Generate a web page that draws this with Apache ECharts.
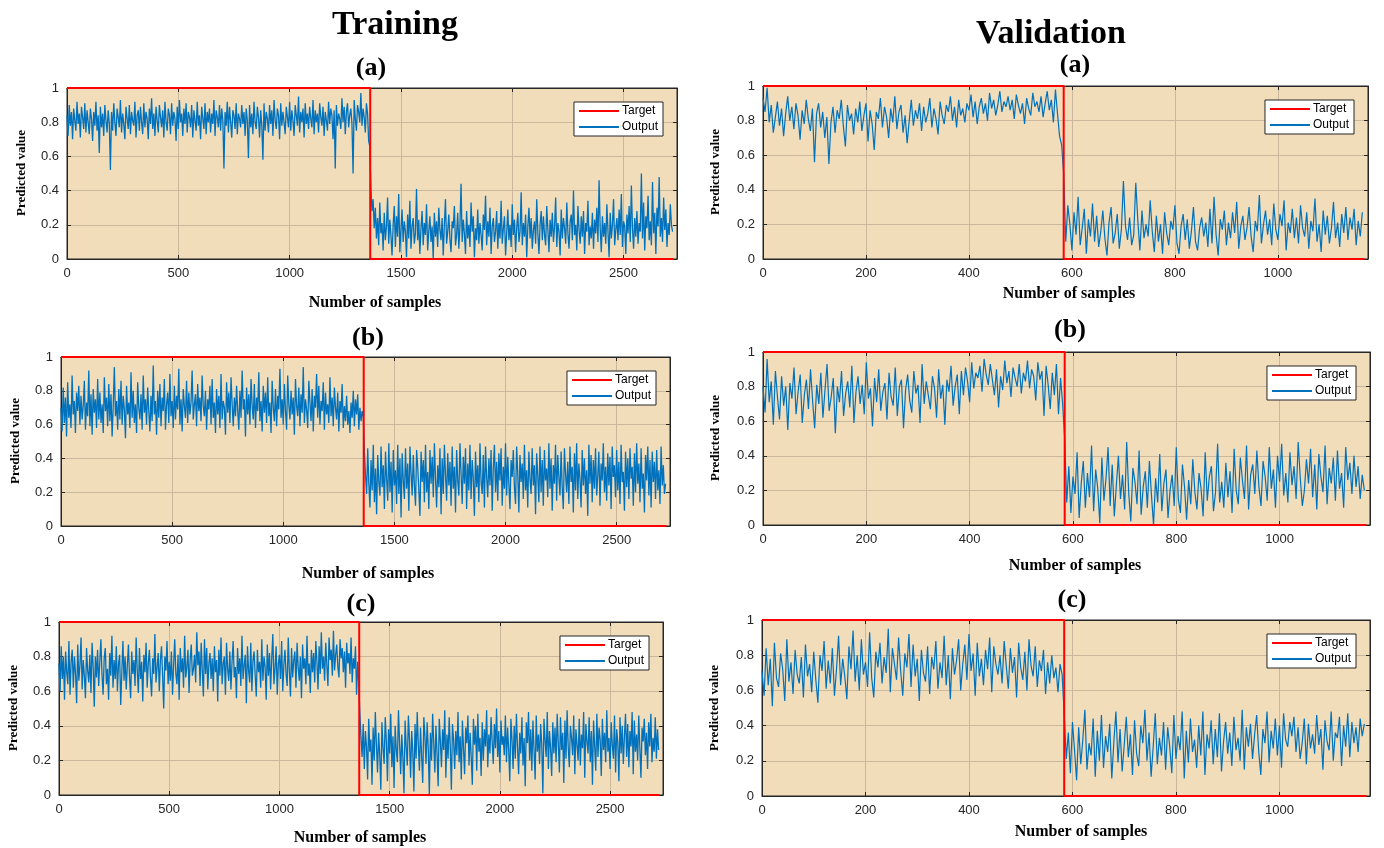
<!DOCTYPE html>
<html lang="en">
<head>
<meta charset="UTF-8">
<title>Training / Validation</title>
<script src="https://cdn.jsdelivr.net/npm/echarts@6/dist/echarts.min.js"></script>
<style>
    html, body { margin: 0; background: #fff; }
    #main { width: 1384px; height: 848px; }
</style>
</head>
<body>
<div id="main"></div>
<script type="text/javascript">
    // values, in percent
    // training: one value every 5 samples, validation: one every 4 samples
    var trainEvery = 5, valEvery = 4;
    var trainSamples = 2724, trainSwitch = 1362;
    var valSamples = 1168, valSwitch = 584;
    var yTicks = [0, 0.2, 0.4, 0.6, 0.8, 1];
    var trainXTicks = [0, 500, 1000, 1500, 2000, 2500];
    var valXTicks = [0, 200, 400, 600, 800, 1000];

    var trainA_hi = [84,72,90,78,86,70,88,81,75,92,79,85,71,89,83,76,91,74,87,80,
        73,88,82,69,86,78,92,75,84,62,89,77,85,72,90,81,74,87,79,52,
        86,75,91,80,72,88,83,77,93,74,85,79,70,89,82,76,90,73,86,81,
        78,92,71,84,87,75,89,80,73,91,77,86,82,70,88,79,94,76,85,72,
        89,81,74,90,83,77,87,71,92,80,75,88,84,73,91,78,86,82,69,89,
        76,93,80,85,72,88,79,91,74,86,83,77,90,71,87,81,75,92,78,84,
        70,89,82,76,91,73,86,80,88,74,85,79,93,72,87,83,77,90,75,88,
        81,53,86,78,92,74,89,80,71,87,84,76,91,73,85,82,77,90,79,86,
        72,88,81,59,90,77,85,73,92,80,76,89,83,71,87,78,58,91,75,86,
        82,74,90,79,87,72,93,81,76,88,84,70,91,78,86,80,73,89,83,77,
        92,75,87,81,72,90,84,78,95,74,86,80,88,71,91,79,85,76,89,82,
        77,93,73,87,80,85,74,91,83,78,89,72,86,81,75,92,79,88,84,70,
        87,53,90,78,85,82,76,94,80,89,73,86,91,77,84,88,79,50,93,82,
        75,90,86,80,97,78,88,83,74,91,85,69,66];
    var trainA_lo = [42,28,35,18,30,12,24,8,33,15,21,5,27,11,19,36,9,23,14,2,
        20,31,7,25,13,38,4,17,29,10,22,16,1,26,12,34,6,19,24,9,
        15,41,11,23,3,18,28,8,21,14,32,5,16,25,10,19,0,27,13,22,
        7,30,17,11,24,2,20,35,9,16,26,12,4,22,18,31,8,14,27,6,
        19,44,10,23,15,3,28,12,20,7,33,16,25,1,18,11,29,9,21,14,
        5,26,17,37,8,22,13,30,3,19,24,10,16,28,6,21,12,34,9,18,
        25,2,15,29,11,20,7,32,14,23,4,18,27,10,16,39,8,21,13,26,
        1,19,30,12,24,6,17,22,9,35,15,3,20,28,11,25,14,8,31,17,
        4,23,13,27,10,19,36,7,21,16,2,29,12,24,18,9,33,15,6,22,
        26,11,40,14,20,5,31,17,9,25,13,28,3,21,16,34,8,19,12,27,
        6,23,15,30,10,46,18,4,25,13,21,9,32,16,1,27,12,20,35,8,
        17,24,11,29,14,38,7,22,19,3,26,15,31,10,43,18,6,24,13,28,
        9,21,16,50,12,33,5,25,18,37,11,22,8,45,15,27,3,30,19,48,
        13,24,10,36,17,29,7,21,14,32,20,16];

    var trainB_hi = [70,56,82,61,76,53,85,64,72,58,89,66,74,55,79,68,83,60,77,63,
        71,86,57,73,65,92,59,78,54,81,67,75,58,87,63,79,61,72,55,88,
        68,76,59,84,62,78,53,71,94,65,74,57,81,63,86,60,77,69,52,83,
        66,73,58,91,64,80,61,72,55,85,70,63,78,57,89,67,75,60,82,68,
        56,77,62,95,66,74,54,80,64,84,59,76,68,87,57,72,79,61,90,65,
        74,58,83,63,77,69,93,60,75,56,81,71,64,86,61,79,66,73,92,63,
        72,78,59,84,68,76,62,89,71,65,80,57,75,69,83,60,87,64,73,55,
        81,66,77,58,90,63,74,70,54,85,67,79,61,88,72,59,76,65,83,68,
        57,80,64,92,69,75,53,82,66,78,60,87,71,63,84,58,76,68,91,62,
        74,56,83,67,79,61,88,65,73,55,86,70,62,81,59,77,69,93,64,75,
        60,84,68,57,89,72,63,80,66,76,54,87,71,65,82,59,78,67,94,61,
        75,69,58,86,73,62,81,56,77,70,90,64,83,60,74,68,85,57,79,66,
        72,61,88,65,76,59,82,70,63,79,56,74,67,84,58,71,62,77,60,68,
        55,73,64,80,59,75,66,78,57,70,62,68,65];
    var trainB_lo = [44,30,19,46,25,11,39,21,48,14,34,7,42,26,18,47,23,36,10,44,
        28,15,49,20,38,8,45,24,33,13,48,19,40,5,43,27,16,46,22,37,
        9,47,31,18,42,24,12,45,35,21,6,44,26,39,14,48,20,32,10,45,
        25,41,17,49,28,11,36,23,46,7,40,19,48,30,15,43,24,38,12,47,
        22,35,8,45,27,18,49,31,13,41,25,46,10,37,21,48,16,39,28,6,
        44,23,36,14,49,26,19,42,11,47,29,17,40,24,45,9,34,48,20,38,
        15,43,27,46,12,35,22,49,18,41,25,10,39,29,45,23,13,47,31,8,
        42,26,37,16,48,21,33,11,44,28,19,46,24,36,7,43,30,14,47,20,
        39,12,45,27,34,17,49,22,40,9,36,25,48,15,42,29,18,44,23,10,
        46,31,20,38,13,47,26,35,8,43,21,49,16,37,28,11,45,24,40,19,
        33,6,48,25,42,14,39,22,46,18,30,44,12,37,27,49,20,35,15,43,
        24,41,10,47,29,36,17,45,21,38,13,48,26,32,9,44,23,40,16,46,
        28,35,12,43,20,49,25,37,14,46,22,31,8,42,27,47,18,39,11,44,
        26,38,16,45,21,33,13,47,24,36,19,25];

    var trainC_hi = [76,60,86,67,80,55,83,71,64,89,58,77,84,62,80,70,53,87,66,75,
        91,61,78,69,56,85,72,65,81,59,88,74,51,80,68,84,63,77,90,70,
        58,79,85,64,73,55,82,69,92,62,78,67,86,60,76,81,52,71,89,66,
        80,61,75,87,68,56,83,70,78,63,91,72,59,85,67,77,54,81,71,88,
        62,76,84,68,57,79,70,93,65,74,82,60,78,86,69,50,80,72,89,64,
        77,66,83,58,75,90,70,64,81,55,85,71,79,62,92,68,74,84,59,78,
        87,69,73,81,65,94,75,83,63,88,72,57,90,70,85,61,76,82,67,79,
        60,86,71,78,54,84,69,91,64,76,80,58,88,73,66,83,61,77,89,68,
        74,56,85,70,79,63,92,67,75,81,53,86,72,65,88,60,78,83,69,57,
        84,71,77,62,90,66,80,74,55,87,69,82,61,79,93,64,73,86,58,76,
        81,67,89,60,75,84,70,63,91,72,57,85,68,78,83,62,88,74,66,80,
        56,87,73,79,64,92,69,76,59,84,71,82,65,89,77,61,86,70,94,73,
        80,66,88,75,63,91,78,84,69,95,72,81,87,74,68,90,79,85,71,83,
        62,88,76,82,70,91,65,79,73,86,58,77,64];
    var trainC_lo = [47,33,22,41,15,37,28,9,44,25,32,6,39,20,48,29,13,36,23,3,
        42,27,18,45,31,8,38,24,47,16,34,4,40,26,19,49,30,12,35,22,
        1,43,28,17,46,32,10,37,25,2,41,21,48,29,14,39,23,7,45,34,
        18,42,27,0,36,20,47,30,13,40,24,5,44,31,16,38,26,49,10,35,
        21,45,28,3,41,32,15,37,23,48,19,34,9,43,27,12,39,30,46,17,
        36,22,6,44,29,40,14,47,25,33,11,42,20,38,28,49,16,35,24,45,
        31,18,41,27,50,22,37,13,43,29,34,23,46,19,39,26,8,44,32,15,
        40,21,47,28,12,36,24,45,17,33,5,42,30,48,20,38,14,43,26,9,
        46,25,35,18,41,29,1,44,32,22,48,15,37,27,11,42,24,39,19,47,
        30,13,45,26,36,7,43,21,49,28,16,40,33,23,46,12,38,29,20,44,
        17,35,27,48,10,41,31,24,45,19,37,6,43,28,14,47,22,39,32,11,
        44,26,36,19,49,25,33,15,42,29,21,46,13,38,30,8,45,24,40,18,
        34,47,22,41,16,37,28,48,12,43,25,35,20,46,27,10,39,31,44,23,
        36,15,42,28,47,19,33,25,45,21,38,26];

    var valA_hi = [93,85,99,79,89,73,82,91,77,87,71,84,94,80,88,75,90,83,69,86,
        78,92,81,74,87,56,84,90,76,85,70,82,55,79,88,73,86,81,92,77,
        65,89,80,84,72,87,79,91,74,83,90,68,86,78,63,85,81,93,76,88,
        82,70,87,79,94,75,85,89,73,83,67,80,92,77,86,81,90,74,88,79,
        84,93,76,87,81,72,91,83,78,89,85,94,80,88,76,92,83,87,79,90,
        86,95,82,91,78,88,93,84,90,80,96,87,92,83,89,97,85,91,88,94,
        86,92,81,95,89,84,90,78,93,87,83,96,88,91,85,94,82,90,97,86,
        92,79,98,84,71,66];
    var valA_lo = [49,10,31,20,5,27,14,36,8,18,29,3,23,13,32,10,25,7,16,28,
        12,2,21,30,9,15,26,6,17,45,19,11,24,8,14,44,22,5,28,12,
        20,13,34,16,4,25,10,20,3,27,15,8,22,17,31,9,3,19,26,11,
        23,6,16,30,10,5,18,24,13,21,7,29,9,36,14,2,23,17,28,8,
        21,12,27,15,33,6,19,25,11,18,30,13,4,22,16,37,9,20,28,14,
        23,8,32,17,11,26,19,34,5,21,15,29,12,24,9,31,18,13,27,6,
        22,16,35,10,20,4,28,14,25,9,18,33,12,21,7,26,15,30,11,24,
        17,29,8,22,13,27];

    var valB_hi = [80,65,96,71,83,58,89,74,61,86,69,80,55,82,73,91,64,77,87,59,
        75,84,67,90,72,56,81,70,88,62,78,93,66,74,85,53,80,71,89,63,
        76,83,68,92,59,77,86,70,81,64,94,73,79,57,85,71,90,66,77,82,
        61,88,74,69,91,63,80,84,56,78,87,72,65,89,76,81,59,93,70,83,
        75,67,86,79,62,90,73,81,58,84,77,92,69,80,87,64,89,75,91,83,
        71,94,79,88,85,92,77,96,87,81,93,84,75,90,68,86,78,95,82,89,
        74,91,85,80,93,76,88,83,95,79,90,86,72,94,84,89,63,92,81,67,
        88,75,93,64,85,70];
    var valB_lo = [50,13,34,7,28,18,42,4,24,37,10,30,16,46,8,32,21,1,39,14,
        27,45,11,35,5,23,40,15,29,9,48,18,2,33,25,12,43,6,22,31,
        10,37,17,0,27,13,41,8,24,32,4,20,29,11,45,15,7,35,22,3,
        26,12,38,19,9,30,21,5,42,14,28,34,8,19,47,13,25,10,36,16,
        31,7,44,20,12,39,26,15,46,9,29,35,18,43,22,11,37,28,14,45,
        21,32,10,40,25,47,17,30,13,42,23,34,15,48,27,11,20,38,24,44,
        16,35,9,41,28,19,46,12,33,24,39,14,43,21,30,10,45,26,36,18,
        40,22,34,15,29,20];

    var valC_hi = [71,57,84,63,78,51,87,67,62,81,72,54,89,65,76,58,83,69,64,79,
        56,86,68,75,59,82,66,53,80,71,88,61,77,64,84,57,72,91,63,78,
        68,55,85,72,94,65,80,60,89,69,76,62,93,67,56,82,73,87,64,79,
        70,95,59,84,75,66,90,71,57,81,73,92,62,86,68,78,54,83,70,65,
        85,58,79,72,88,61,76,67,91,63,80,55,84,69,77,89,60,75,86,66,
        92,71,81,57,87,68,78,63,83,72,90,59,85,75,69,80,64,88,74,61,
        84,70,79,56,87,73,66,82,60,89,74,68,85,62,77,71,83,58,76,64,
        80,67,73,59,75,69];
    var valC_lo = [47,21,36,13,42,26,9,39,18,32,49,15,30,23,44,11,37,20,46,16,
        34,25,41,10,31,48,19,38,14,29,45,22,35,12,43,24,17,40,30,49,
        20,36,11,28,47,18,33,23,42,15,39,28,13,46,21,34,26,48,10,37,
        19,44,25,32,16,40,23,48,12,35,27,43,18,38,22,47,14,31,42,24,
        36,17,45,26,33,20,49,15,39,28,41,21,35,46,25,12,38,30,48,19,
        37,27,44,23,40,16,47,32,28,42,34,45,25,39,21,30,44,18,41,27,
        35,24,46,29,38,15,43,31,26,48,20,36,33,45,17,40,28,47,22,42,
        30,39,25,44,34,41];

    var SANS = 'Arial, "Liberation Sans", sans-serif';
    var SERIF = '"Times New Roman", "Liberation Serif", serif';
    var BG = '#f2ddbb', GRIDLINE = '#c9b89b', INK = '#262626';
    var BLUE = '#0072bd', RED = '#ff0000';

    // layout of the six panels (px)
    var panels = [
        {hi: trainA_hi, lo: trainA_lo, every: trainEvery, n: trainSamples, sw: trainSwitch, xmax: 2740, xt: trainXTicks,
            lw: 1.3, rect: [67, 88, 610, 171], tag: '(a)', tagAt: [371, 68], xlabAt: [375, 303], ylabAt: [22, 173]},
        {hi: valA_hi, lo: valA_lo, every: valEvery, n: valSamples, sw: valSwitch, xmax: 1175, xt: valXTicks,
            lw: 1.2, rect: [763, 86, 605, 173], tag: '(a)', tagAt: [1075, 65], xlabAt: [1069, 294], ylabAt: [716, 172]},
        {hi: trainB_hi, lo: trainB_lo, every: trainEvery, n: trainSamples, sw: trainSwitch, xmax: 2740, xt: trainXTicks,
            lw: 1.3, rect: [61, 357, 609, 169], tag: '(b)', tagAt: [368, 338], xlabAt: [368, 574], ylabAt: [16, 441]},
        {hi: valB_hi, lo: valB_lo, every: valEvery, n: valSamples, sw: valSwitch, xmax: 1175, xt: valXTicks,
            lw: 1.2, rect: [763, 352, 607, 173], tag: '(b)', tagAt: [1070, 330], xlabAt: [1075, 566], ylabAt: [716, 438]},
        {hi: trainC_hi, lo: trainC_lo, every: trainEvery, n: trainSamples, sw: trainSwitch, xmax: 2740, xt: trainXTicks,
            lw: 1.3, rect: [59, 622, 604, 173], tag: '(c)', tagAt: [361, 604], xlabAt: [360, 838], ylabAt: [14, 708]},
        {hi: valC_hi, lo: valC_lo, every: valEvery, n: valSamples, sw: valSwitch, xmax: 1175, xt: valXTicks,
            lw: 1.2, rect: [762, 620, 608, 176], tag: '(c)', tagAt: [1072, 600], xlabAt: [1081, 832], ylabAt: [715, 708]}
    ];

    function textEl(str, x, y, font, rot) {
        return {
            type: 'text', x: x, y: y, rotation: rot || 0, z: 10,
            style: {text: str, font: font, fill: '#000', align: 'center', verticalAlign: 'middle',
                textAlign: 'center', textVerticalAlign: 'middle'}
        };
    }
    // ticks point into the plot box on all four sides
    function inTick() {
        return {show: true, inside: true, length: 4, lineStyle: {color: INK}};
    }
    // onZero off, otherwise the top/right mirror axes jump to the 0 line
    function boxLine() {
        return {show: true, onZero: false, lineStyle: {color: INK}};
    }
    function plain(v) { return String(v); }

    var grid = [], xAxis = [], yAxis = [], series = [], legend = [];
    var graphic = [
        textEl('Training', 395, 25, 'bold 34px ' + SERIF),
        textEl('Validation', 1051, 34, 'bold 34px ' + SERIF)
    ];

    panels.forEach(function (p, k) {
        var r = p.rect;
        grid.push({left: r[0], top: r[1], width: r[2], height: r[3], show: true,
            backgroundColor: BG, borderColor: INK, borderWidth: 1});

        var xInt = p.xt[1] - p.xt[0];
        var yInt = yTicks[1] - yTicks[0];
        xAxis.push({gridIndex: k, type: 'value', position: 'bottom', min: 0, max: p.xmax, interval: xInt,
            axisLine: boxLine(), axisTick: inTick(),
            axisLabel: {color: INK, fontSize: 13, fontFamily: SANS, margin: 8, showMaxLabel: false, formatter: plain},
            splitLine: {show: true, lineStyle: {color: GRIDLINE, width: 1}}});
        xAxis.push({gridIndex: k, type: 'value', position: 'top', min: 0, max: p.xmax, interval: xInt,
            axisLine: boxLine(), axisTick: inTick(),
            axisLabel: {show: false}, splitLine: {show: false}});
        yAxis.push({gridIndex: k, type: 'value', position: 'left', min: yTicks[0], max: yTicks[yTicks.length - 1],
            interval: yInt,
            axisLine: boxLine(), axisTick: inTick(),
            axisLabel: {color: INK, fontSize: 13, fontFamily: SANS, margin: 8},
            splitLine: {show: true, lineStyle: {color: GRIDLINE, width: 1}}});
        yAxis.push({gridIndex: k, type: 'value', position: 'right', min: yTicks[0], max: yTicks[yTicks.length - 1],
            interval: yInt,
            axisLine: boxLine(), axisTick: inTick(),
            axisLabel: {show: false}, splitLine: {show: false}});

        var out = p.hi.concat(p.lo).map(function (v, i) { return [i * p.every, v / 100]; });
        var target = [[0, 1], [p.sw, 1], [p.sw, 0], [p.n, 0]];

        series.push({name: 'Output', type: 'line', xAxisIndex: 2 * k, yAxisIndex: 2 * k, data: out,
            symbol: 'none', lineStyle: {color: BLUE, width: p.lw}, itemStyle: {color: BLUE}, z: 2});
        series.push({name: 'Target', type: 'line', xAxisIndex: 2 * k, yAxisIndex: 2 * k, data: target,
            symbol: 'none', clip: false, lineStyle: {color: RED, width: 2}, itemStyle: {color: RED}, z: 3});

        legend.push({orient: 'vertical', right: 1384 - (r[0] + r[2] - 14), top: r[1] + 14,
            data: ['Target', 'Output'], selectedMode: false, icon: 'rect',
            backgroundColor: '#fff', borderColor: INK, borderWidth: 1, borderRadius: 0,
            padding: [3, 5], itemGap: 4, itemWidth: 40, itemHeight: 2,
            textStyle: {fontSize: 12, fontFamily: SANS, color: '#000', padding: [0, 0, 0, -2]}});

        graphic.push(textEl(p.tag, p.tagAt[0], p.tagAt[1], 'bold 26px ' + SERIF));
        graphic.push(textEl('Number of samples', p.xlabAt[0], p.xlabAt[1], 'bold 16px ' + SERIF));
        graphic.push(textEl('Predicted value', p.ylabAt[0], p.ylabAt[1], 'bold 13px ' + SERIF, Math.PI / 2));
    });

    var chart = echarts.init(document.getElementById('main'));
    chart.setOption({
        animation: false,
        backgroundColor: '#fff',
        grid: grid,
        xAxis: xAxis,
        yAxis: yAxis,
        legend: legend,
        series: series,
        graphic: graphic
    });
</script>
</body>
</html>
